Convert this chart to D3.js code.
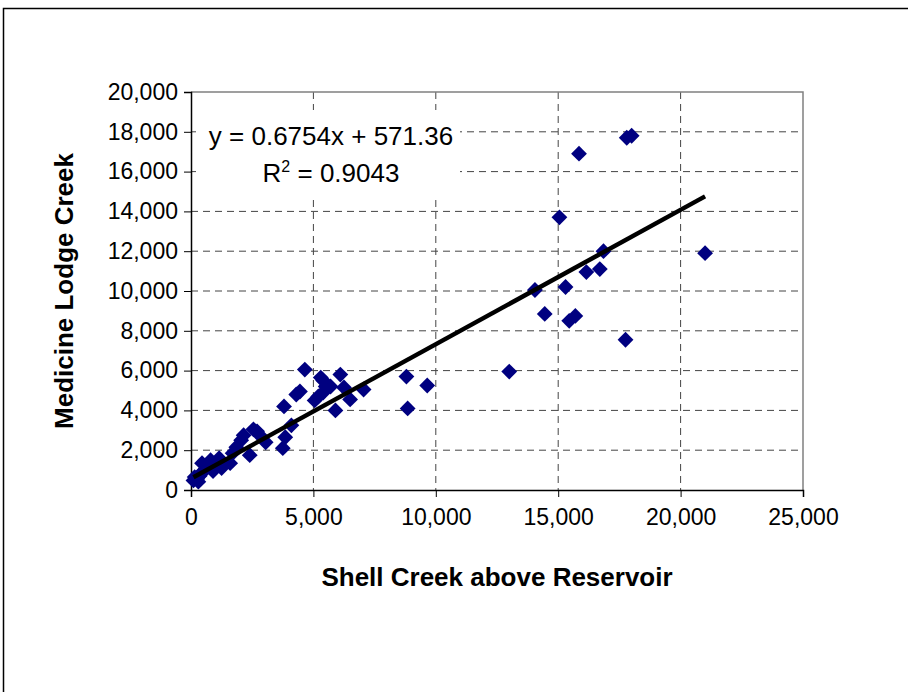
<!DOCTYPE html>
<html lang="en">
<head>
<meta charset="utf-8"/>
<style>
  body { margin: 0; background: #fff; }
  * { font-family: "Liberation Sans", Arial, sans-serif; }
  .grid line { stroke: #444; stroke-dasharray: 7,5; }
  .axisTitle { font-size: 26px; font-weight: bold; }
  .eq { font-size: 26px; }
</style>
</head>
<body>
<svg id="chart" width="908" height="692"></svg>
<script src="https://d3js.org/d3.v7.min.js"></script>
<script>
// Shell Creek above Reservoir (x) vs Medicine Lodge Creek (y)
let shellCreek = [100,150,250,300,350,400,450,500,600,700,800,900,1000,1150,1250,1350,1600,1700,1850,2050,
  2150,2400,2550,2700,2850,3050,3750,3850,4100,3800,4300,4450,4650,5050,5200,5400,5400,5500,5700,5900,
  6100,6250,6500,7050,5300,8800,9650,8850,13000,14050,14450,15050,15300,15450,15700,15850,16150,16700,16850,17750,
  17800,18000,21000]
let medicineLodge = [480,650,550,420,700,800,1350,950,1050,1200,1500,950,1250,1600,1100,1300,1350,1850,2150,2500,
  2750,1750,3050,2950,2700,2400,2100,2650,3250,4200,4800,4950,6050,4500,4700,5500,4900,5200,5200,4000,
  5800,5150,4550,5050,5650,5700,5250,4100,5950,10050,8850,13700,10200,8500,8750,16900,10950,11100,12000,7550,
  17700,17800,11900]

let xTicks = [0,5000,10000,15000,20000,25000]
let yTicks = [0,2000,4000,6000,8000,10000,12000,14000,16000,18000,20000]

let slope = 0.6754, intercept = 571.36
let eqText = "y = 0.6754x + 571.36"
let r2Text = "0.9043"

let svg = d3.select("#chart")

// outer frame
svg.append("rect").attr("x",3.5).attr("y",8.5).attr("width",1000).attr("height",1000)
  .attr("fill","none").attr("stroke","#000").attr("stroke-width",1.5)

let pLeft = 191, pRight = 803, pTop = 92, pBottom = 490

let x = d3.scaleLinear().domain([0,25000]).range([pLeft,pRight])
let y = d3.scaleLinear().domain([0,20000]).range([pBottom,pTop])

// gridlines
svg.append("g").attr("class","grid")
  .selectAll("line").data(yTicks.slice(1,-1)).enter().append("line")
  .attr("x1",pLeft).attr("x2",pRight).attr("y1",d=>y(d)).attr("y2",d=>y(d))
svg.append("g").attr("class","grid")
  .selectAll("line").data(xTicks.slice(1,-1)).enter().append("line")
  .attr("y1",pTop).attr("y2",pBottom).attr("x1",d=>x(d)).attr("x2",d=>x(d))

// plot area border (top/right gray)
svg.append("path").attr("d",`M${pLeft},${pTop}H${pRight}V${pBottom}`)
  .attr("fill","none").attr("stroke","#808080").attr("stroke-width",1.5)

// axes
let fmt = d3.format(",")
svg.append("g").attr("class","xaxis").attr("transform",`translate(0,${pBottom})`)
  .call(d3.axisBottom(x).tickValues(xTicks).tickFormat(fmt).tickSize(7).tickPadding(12))
svg.append("g").attr("class","yaxis").attr("transform",`translate(${pLeft},0)`)
  .call(d3.axisLeft(y).tickValues(yTicks).tickFormat(fmt).tickSize(7).tickPadding(6))
svg.selectAll(".domain").attr("stroke","#000").attr("stroke-width",1.5)
svg.selectAll(".tick line").attr("stroke","#000")
svg.selectAll(".tick text").attr("font-family","Liberation Sans, Arial, sans-serif")
  .attr("font-size",23).attr("fill","#000")

// points
let points = shellCreek.map((d,i)=>[d, medicineLodge[i]])
let diamond = d3.symbol().type(d3.symbolSquare).size(125)
svg.append("g").selectAll("path").data(points).enter().append("path")
  .attr("d",diamond)
  .attr("transform",d=>`translate(${x(d[0])},${y(d[1])}) rotate(45)`)
  .attr("fill","#000080")

// trendline
let xMin = d3.min(shellCreek), xMax = d3.max(shellCreek)
svg.append("line")
  .attr("x1",x(xMin)).attr("y1",y(slope*xMin+intercept))
  .attr("x2",x(xMax)).attr("y2",y(slope*xMax+intercept))
  .attr("stroke","#000").attr("stroke-width",4.5)

// equation label
svg.append("rect").attr("x",196).attr("y",110).attr("width",264).attr("height",86).attr("fill","#fff")
svg.append("text").attr("class","eq").attr("x",331).attr("y",145).attr("text-anchor","middle").text(eqText)
let r2 = svg.append("text").attr("class","eq").attr("x",331).attr("y",182).attr("text-anchor","middle")
r2.append("tspan").text("R")
r2.append("tspan").attr("dy",-10).attr("font-size",16).text("2")
r2.append("tspan").attr("dy",10).text(" = " + r2Text)

// axis titles
svg.append("text").attr("class","axisTitle").attr("x",497).attr("y",586)
  .attr("text-anchor","middle").text("Shell Creek above Reservoir")
svg.append("text").attr("class","axisTitle")
  .attr("transform","translate(73,291) rotate(-90)")
  .attr("text-anchor","middle").text("Medicine Lodge Creek")
</script>
</body>
</html>
